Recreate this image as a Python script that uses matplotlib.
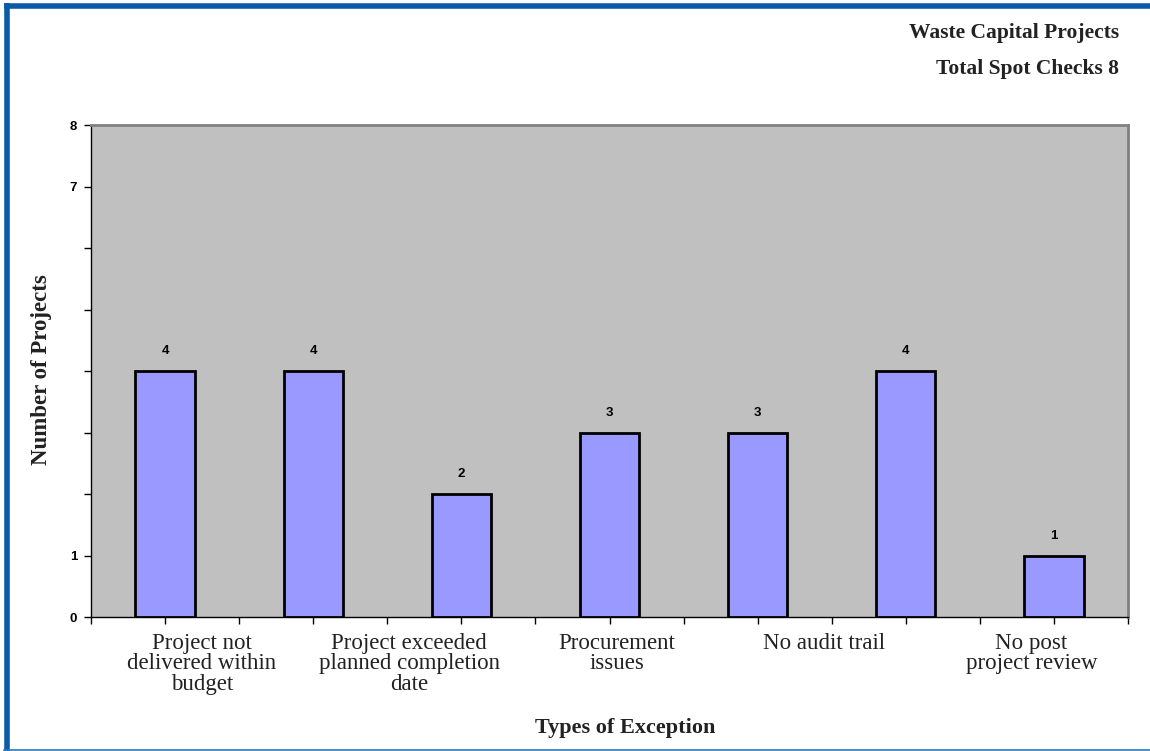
import matplotlib.pyplot as plt
from matplotlib.lines import Line2D

# data
bar_values = [4, 4, 2, 3, 3, 4, 1]
category_labels = [
    "Project not\ndelivered within\nbudget",
    "Project exceeded\nplanned completion\ndate",
    "Procurement\nissues",
    "No audit trail",
    "No post\nproject review",
]
y_ticks = [0, 1, 2, 3, 4, 5, 6, 7, 8]
y_tick_labels = ["0", "1", "", "", "", "", "", "7", "8"]
title_lines = ["Waste Capital Projects", "Total Spot Checks 8"]

serif = ["Liberation Serif", "DejaVu Serif"]
sans = ["Liberation Sans", "DejaVu Sans"]

fig = plt.figure(figsize=(11.5, 7.51), dpi=100)
ax = fig.add_axes([91 / 1150, 1 - 617 / 751, 1037 / 1150, 492 / 751])
ax.set_facecolor("#c0c0c0")

x = list(range(len(bar_values)))
ax.bar(x, bar_values, width=0.40, color="#9999ff", edgecolor="black", linewidth=2, zorder=3)
for xi, v in zip(x, bar_values):
    ax.annotate(str(v), (xi, v), xytext=(0, 10), textcoords="offset points",
                ha="center", va="bottom", fontsize=9.5, fontweight="bold", family=sans)

ax.set_xlim(-0.5, len(bar_values) - 0.5)
ax.set_ylim(0, 8)
ax.set_xticks([i * 0.5 - 0.5 for i in range(2 * len(bar_values) + 1)])
ax.set_xticklabels([])
ax.set_yticks(y_ticks)
ax.set_yticklabels(y_tick_labels, fontsize=9.5, fontweight="bold", family=sans)
ax.tick_params(axis="both", direction="out", length=5, width=1, colors="black")
ax.tick_params(axis="y", pad=5)

for s in ["top", "right"]:
    ax.spines[s].set_color("#808080")
    ax.spines[s].set_linewidth(2)
for s in ["left", "bottom"]:
    ax.spines[s].set_color("black")
    ax.spines[s].set_linewidth(1)

# category texts are spread evenly under the axis
for i, lab in enumerate(category_labels):
    ax.text(0.107 + 0.2 * i, -0.033, lab, transform=ax.transAxes, ha="center", va="top",
            fontsize=16.5, family=serif, color="#222222", linespacing=0.95)

fig.text(42 / 1150, 1 - 370 / 751, "Number of Projects", rotation=90, ha="center", va="center",
         fontsize=16.5, fontweight="bold", family=serif, color="#222222")
fig.text(625 / 1150, 1 - 728 / 751, "Types of Exception", ha="center", va="center",
         fontsize=16, fontweight="bold", family=serif, color="#222222")
for j, t in enumerate(title_lines):
    fig.text(1119 / 1150, 1 - (33 + 36 * j) / 751, t, ha="right", va="center",
             fontsize=15.5, fontweight="bold", family=serif, color="#222222")

# blue frame round the page
blue = "#0a5aa8"
fig.add_artist(Line2D([6.5 / 1150, 6.5 / 1150], [0, 1 - 3 / 751], transform=fig.transFigure,
                      color=blue, linewidth=4, solid_capstyle="butt"))
fig.add_artist(Line2D([4 / 1150, 1], [1 - 5.5 / 751, 1 - 5.5 / 751], transform=fig.transFigure,
                      color=blue, linewidth=4, solid_capstyle="butt"))
fig.add_artist(Line2D([4 / 1150, 1], [1.5 / 751, 1.5 / 751], transform=fig.transFigure,
                      color="#2a7ac0", linewidth=1.2))

fig.savefig("out.png", dpi=100)
